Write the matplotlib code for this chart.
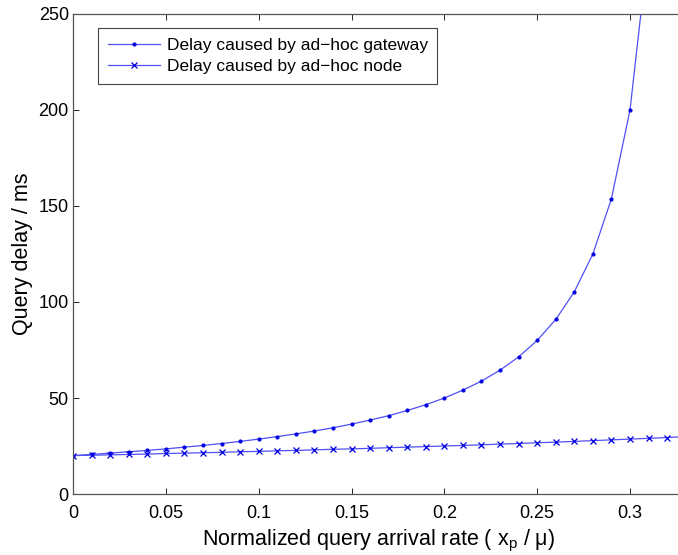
import matplotlib
matplotlib.use("Agg")
import matplotlib.pyplot as plt

plt.rcParams['font.family'] = ['Liberation Sans', 'DejaVu Sans']

# normalized query arrival rate
rate = [0.00, 0.01, 0.02, 0.03, 0.04, 0.05, 0.06, 0.07, 0.08, 0.09,
        0.10, 0.11, 0.12, 0.13, 0.14, 0.15, 0.16, 0.17, 0.18, 0.19,
        0.20, 0.21, 0.22, 0.23, 0.24, 0.25, 0.26, 0.27, 0.28, 0.29,
        0.30, 0.31, 0.32, 0.33]

# delay caused by ad-hoc gateway (ms)
gateway_delay = [20.0, 20.6, 21.3, 22.0, 22.7, 23.5, 24.4, 25.3, 26.3, 27.4,
                 28.6, 29.9, 31.3, 32.8, 34.5, 36.4, 38.5, 40.8, 43.5, 46.5,
                 50.0, 54.1, 58.8, 64.5, 71.4, 80.0, 90.9, 105.3, 125.0, 153.8,
                 200.0, 285.7, 500.0, 2000.0]

# delay caused by ad-hoc node (ms)
node_delay = [20.0, 20.2, 20.4, 20.6, 20.8, 21.1, 21.3, 21.5, 21.7, 22.0,
              22.2, 22.5, 22.7, 23.0, 23.3, 23.5, 23.8, 24.1, 24.4, 24.7,
              25.0, 25.3, 25.6, 26.0, 26.3, 26.7, 27.0, 27.4, 27.8, 28.2,
              28.6, 29.0, 29.4, 29.9]

line_col = '#5050f5'
mark_col = '#0000e0'

fig = plt.figure(figsize=(6.78, 5.55), dpi=100)
ax = fig.add_axes([0.1077, 0.1099, 0.9023, 0.8649])

ax.plot(rate, gateway_delay, color=line_col, lw=0.9, marker='.', ms=4,
        mfc=mark_col, mec=mark_col, label='Delay caused by ad\u2212hoc gateway')
ax.plot(rate, node_delay, color=line_col, lw=0.9, marker='x', ms=5, mew=0.9,
        mfc=mark_col, mec=mark_col, label='Delay caused by ad\u2212hoc node')

ax.set_xlim(0, 0.3295)
ax.set_ylim(0, 250)
ax.set_xticks([0, 0.05, 0.1, 0.15, 0.2, 0.25, 0.3])
ax.set_xticklabels(['0', '0.05', '0.1', '0.15', '0.2', '0.25', '0.3'])
ax.set_yticks([0, 50, 100, 150, 200, 250])
ax.tick_params(direction='in', top=True, right=False, labelsize=13,
               length=4, width=0.6)
ax.tick_params(axis='x', pad=8)
ax.tick_params(axis='y', pad=3)
for s in ax.spines.values():
    s.set_color('#555555')
    s.set_linewidth(0.9)
ax.spines['right'].set_visible(False)

ax.set_xlabel('Normalized query arrival rate ( x$_\\mathregular{p}$ / \u03bc)',
              fontsize=15.5, labelpad=4)
ax.set_ylabel('Query delay / ms', fontsize=15.5, labelpad=4)

leg = ax.legend(loc='upper left', bbox_to_anchor=(0.041, 0.971), fontsize=12.5,
                fancybox=False, framealpha=1, edgecolor='#444444',
                handlelength=3.0, handletextpad=0.4, borderpad=0.55,
                labelspacing=0.38, borderaxespad=0)
leg.get_frame().set_linewidth(0.8)

fig.savefig('out.png', dpi=100)
